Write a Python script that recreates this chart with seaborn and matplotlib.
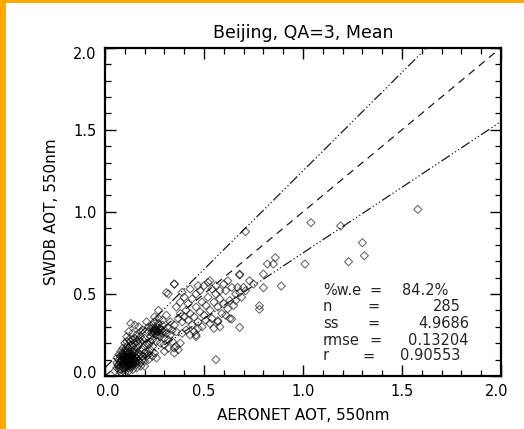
import numpy as np
import pandas as pd
import matplotlib
matplotlib.use("Agg")
import matplotlib.pyplot as plt
import matplotlib.transforms as mtrans
from matplotlib.patches import Rectangle
import seaborn as sns

# ---------------- data ----------------
title = "Beijing, QA=3, Mean"
xlabel = "AERONET AOT, 550nm"
ylabel = "SWDB AOT, 550nm"
tick_values = [0.0, 0.5, 1.0, 1.5, 2.0]
tick_labels = ["0.0", "0.5", "1.0", "1.5", "2.0"]

core_x = [0.05, 0.06, 0.07, 0.08, 0.09, 0.10, 0.11, 0.12, 0.13, 0.06,
          0.07, 0.08, 0.09, 0.10, 0.11, 0.12, 0.13, 0.14, 0.15, 0.08,
          0.09, 0.10, 0.11, 0.12, 0.13, 0.14, 0.15, 0.16, 0.17, 0.10,
          0.11, 0.12, 0.13, 0.14, 0.15, 0.16, 0.17, 0.18, 0.19, 0.20,
          0.07, 0.08, 0.09, 0.10, 0.11, 0.12, 0.13, 0.14, 0.15, 0.16,
          0.17, 0.18, 0.19, 0.20, 0.21, 0.12, 0.11, 0.10, 0.09, 0.13,
          0.14, 0.15, 0.16, 0.17, 0.18, 0.19, 0.20, 0.21, 0.22, 0.23,
          0.06, 0.07, 0.08, 0.09, 0.10, 0.11, 0.12, 0.13, 0.14, 0.15,
          0.16, 0.17, 0.18, 0.19, 0.20, 0.21, 0.22, 0.23, 0.24, 0.22,
          0.16, 0.18, 0.20, 0.14, 0.12, 0.10, 0.08, 0.24, 0.25, 0.26,
          0.13, 0.15, 0.17, 0.19, 0.21, 0.12, 0.14, 0.16, 0.18, 0.11,
          0.085, 0.095, 0.105, 0.115, 0.125, 0.135, 0.145, 0.155, 0.09, 0.10,
          0.11, 0.12, 0.13, 0.14, 0.085, 0.095, 0.105, 0.115, 0.125, 0.135,
          0.10, 0.11, 0.12, 0.13, 0.14, 0.15, 0.075, 0.065, 0.115, 0.125,
          0.235, 0.245, 0.255, 0.265, 0.275, 0.285, 0.25, 0.26, 0.27, 0.24]
core_y = [0.03, 0.05, 0.04, 0.06, 0.08, 0.07, 0.09, 0.10, 0.08, 0.08,
          0.10, 0.12, 0.11, 0.13, 0.12, 0.14, 0.11, 0.13, 0.12, 0.09,
          0.14, 0.10, 0.15, 0.11, 0.16, 0.10, 0.15, 0.13, 0.14, 0.16,
          0.18, 0.17, 0.19, 0.18, 0.20, 0.17, 0.19, 0.21, 0.16, 0.18,
          0.07, 0.04, 0.05, 0.04, 0.06, 0.05, 0.07, 0.06, 0.08, 0.07,
          0.09, 0.08, 0.10, 0.09, 0.12, 0.08, 0.11, 0.12, 0.13, 0.13,
          0.15, 0.10, 0.11, 0.12, 0.13, 0.12, 0.14, 0.15, 0.13, 0.16,
          0.11, 0.13, 0.15, 0.17, 0.20, 0.21, 0.22, 0.21, 0.22, 0.23,
          0.21, 0.22, 0.24, 0.22, 0.23, 0.20, 0.19, 0.21, 0.18, 0.10,
          0.05, 0.06, 0.06, 0.04, 0.03, 0.02, 0.02, 0.12, 0.14, 0.11,
          0.32, 0.31, 0.30, 0.28, 0.33, 0.27, 0.26, 0.25, 0.27, 0.24,
          0.095, 0.105, 0.085, 0.095, 0.115, 0.095, 0.105, 0.085, 0.07, 0.09,
          0.10, 0.12, 0.10, 0.08, 0.115, 0.125, 0.11, 0.075, 0.065, 0.12,
          0.055, 0.065, 0.075, 0.055, 0.07, 0.095, 0.085, 0.065, 0.135, 0.145,
          0.265, 0.275, 0.285, 0.27, 0.29, 0.28, 0.26, 0.28, 0.25, 0.29]

mid_x = [0.22, 0.23, 0.24, 0.25, 0.26, 0.27, 0.28, 0.29, 0.30, 0.24,
         0.25, 0.26, 0.27, 0.28, 0.29, 0.30, 0.31, 0.32, 0.23, 0.22,
         0.24, 0.26, 0.28, 0.30, 0.32, 0.33, 0.34, 0.27, 0.25, 0.29,
         0.27, 0.31, 0.33, 0.35, 0.36, 0.34, 0.36, 0.38, 0.32, 0.30,
         0.37, 0.38, 0.39, 0.40, 0.41, 0.42, 0.43, 0.44, 0.45, 0.46,
         0.47, 0.48, 0.49, 0.50, 0.51, 0.52, 0.53, 0.54, 0.55, 0.56,
         0.57, 0.58, 0.59, 0.60, 0.61, 0.62, 0.63, 0.64, 0.65, 0.66,
         0.36, 0.38, 0.40, 0.42, 0.44, 0.46, 0.48, 0.50, 0.52, 0.54,
         0.56, 0.58, 0.60, 0.62, 0.35, 0.32, 0.39, 0.43, 0.47, 0.53,
         0.41, 0.45, 0.49, 0.53, 0.57, 0.55, 0.51, 0.47, 0.43, 0.39,
         0.37, 0.35, 0.46, 0.58, 0.61, 0.63, 0.66, 0.68, 0.67, 0.70,
         0.68, 0.71, 0.73, 0.75, 0.69]
mid_y = [0.27, 0.29, 0.26, 0.28, 0.30, 0.27, 0.29, 0.26, 0.28, 0.31,
         0.33, 0.25, 0.32, 0.24, 0.31, 0.23, 0.26, 0.29, 0.24, 0.30,
         0.22, 0.21, 0.20, 0.19, 0.22, 0.25, 0.28, 0.35, 0.36, 0.34,
         0.40, 0.37, 0.33, 0.31, 0.27, 0.21, 0.18, 0.20, 0.17, 0.15,
         0.35, 0.38, 0.33, 0.36, 0.40, 0.34, 0.38, 0.31, 0.36, 0.42,
         0.33, 0.39, 0.45, 0.37, 0.43, 0.48, 0.40, 0.35, 0.45, 0.50,
         0.42, 0.47, 0.38, 0.44, 0.52, 0.41, 0.46, 0.54, 0.43, 0.50,
         0.42, 0.45, 0.48, 0.44, 0.47, 0.50, 0.52, 0.55, 0.57, 0.53,
         0.55, 0.52, 0.56, 0.58, 0.56, 0.50, 0.51, 0.53, 0.55, 0.58,
         0.28, 0.27, 0.30, 0.32, 0.33, 0.29, 0.34, 0.29, 0.25, 0.26,
         0.16, 0.14, 0.24, 0.30, 0.37, 0.35, 0.46, 0.51, 0.54, 0.54,
         0.62, 0.52, 0.58, 0.56, 0.48]

out_x = [1.58, 1.04, 1.19, 0.71, 1.30, 1.31, 1.23, 1.01, 0.86, 0.85,
         0.82, 0.80, 0.68, 0.89, 0.80, 0.78, 0.78, 0.68, 0.64, 0.57,
         0.56, 0.46, 0.35, 0.31, 0.35]
out_y = [1.015, 0.934, 0.914, 0.879, 0.812, 0.733, 0.696, 0.682, 0.721, 0.682,
         0.682, 0.621, 0.615, 0.548, 0.538, 0.428, 0.406, 0.296, 0.347, 0.337,
         0.10, 0.25, 0.17, 0.508, 0.56]

stat_names = ["%w.e", "n", "ss", "rmse", "r"]
stat_values = ["84.2%", "285", "4.9686", "0.13204", "0.90553"]

line_x = [0.0, 2.0]
one_one_y = [0.0, 2.0]
upper_y = [0.05, 2.45]
lower_y = [-0.05, 1.55]

df = pd.DataFrame({"x": core_x + mid_x + out_x, "y": core_y + mid_y + out_y})

# ---------------- figure ----------------
sns.set_theme(style="ticks")
plt.rcParams["font.family"] = ["DejaVu Sans"]
fig = plt.figure(figsize=(5.24, 4.29), dpi=100)
fig.patch.set_facecolor("white")
fig.patches.append(Rectangle((0, 0), 6 / 524, 1, transform=fig.transFigure,
                             facecolor="#FFAA00", edgecolor="none", zorder=0))
fig.patches.append(Rectangle((0, 1 - 3 / 429), 1, 3 / 429, transform=fig.transFigure,
                             facecolor="#FFAA00", edgecolor="none", zorder=0))

ax = fig.add_axes([105 / 524, 1 - 376 / 429, 396 / 524, 328.3 / 429])

sns.lineplot(x=line_x, y=one_one_y, ax=ax, color="0.1", lw=0.9,
             linestyle=(0, (6, 4.5)))
sns.lineplot(x=line_x, y=upper_y, ax=ax, color="0.1", lw=0.9,
             linestyle=(0, (8, 2, 1, 2, 1, 2, 1, 2)))
sns.lineplot(x=line_x, y=lower_y, ax=ax, color="0.1", lw=0.9,
             linestyle=(0, (8, 2, 1, 2, 1, 2, 1, 2)))

sns.scatterplot(data=df, x="x", y="y", ax=ax, marker="D", s=17,
                facecolor="none", edgecolor=(0.0, 0.0, 0.0, 0.6),
                linewidth=0.75, zorder=3)

ax.set_xlim(0, 2)
ax.set_ylim(0, 2)
ax.set_xticks(tick_values)
ax.set_yticks(tick_values)
ax.set_xticklabels(tick_labels)
ax.set_yticklabels(tick_labels)
ax.set_xticks(np.arange(0, 2.01, 0.1), minor=True)
ax.set_yticks(np.arange(0, 2.01, 0.1), minor=True)
ax.tick_params(which="both", direction="in", top=True, right=True,
               color="black", labelsize=10.5, labelcolor="black")
ax.tick_params(which="major", length=8, width=1.0, pad=6)
ax.tick_params(which="minor", length=4, width=0.9)
for s in ax.spines.values():
    s.set_linewidth(1.6)
    s.set_color("black")

ax.set_title(title, fontsize=12.5, pad=7, color="black")
ax.set_xlabel(xlabel, fontsize=11, labelpad=6, color="black")
ax.set_ylabel(ylabel, fontsize=11, labelpad=10, color="black")

# stats text block
row_y = [0.520, 0.422, 0.321, 0.219, 0.122]
eq_x = [1.369, 1.354, 1.354, 1.369, 1.333]
val_x = [1.732, 1.796, 1.838, 1.838, 1.796]
for i in range(len(stat_names)):
    ax.text(1.10, row_y[i], stat_names[i], fontsize=10.5, ha="left", va="center")
    ax.text(eq_x[i], row_y[i], "=", fontsize=10.5, ha="center", va="center")
    ax.text(val_x[i], row_y[i], stat_values[i], fontsize=10.5, ha="right", va="center")

if ax.get_legend() is not None:
    ax.get_legend().remove()

# nudge end tick labels inward (IDL style)
fig.canvas.draw()
xl = ax.get_xticklabels()
yl = ax.get_yticklabels()
xl[0].set_transform(xl[0].get_transform() + mtrans.ScaledTranslation(3 / 100, 0, fig.dpi_scale_trans))
xl[-1].set_transform(xl[-1].get_transform() + mtrans.ScaledTranslation(-4 / 100, 0, fig.dpi_scale_trans))
yl[0].set_transform(yl[0].get_transform() + mtrans.ScaledTranslation(0, 4 / 100, fig.dpi_scale_trans))
yl[-1].set_transform(yl[-1].get_transform() + mtrans.ScaledTranslation(0, -5 / 100, fig.dpi_scale_trans))

fig.savefig("out.png", dpi=100)
